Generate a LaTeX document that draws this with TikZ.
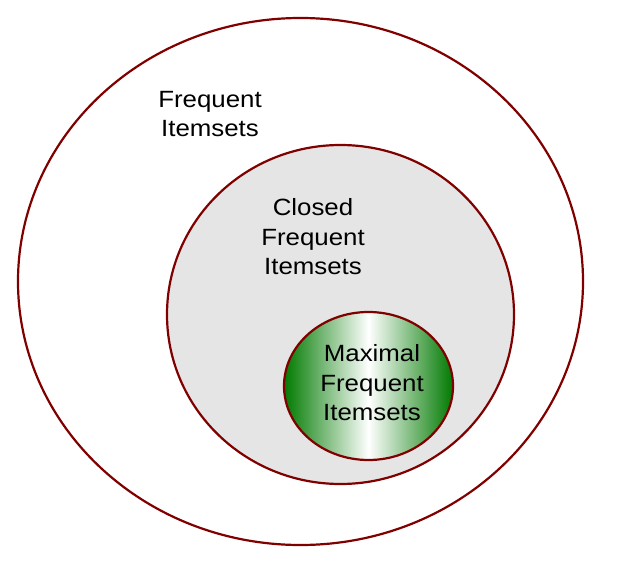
\documentclass[tikz,border=0pt]{standalone}
\usepackage{fontspec}
\setmainfont[FakeStretch=1.1]{Liberation Sans}
\definecolor{setline}{RGB}{128,0,0}
\definecolor{setgreen}{RGB}{0,122,0}
\tikzset{
  setborder/.style={draw=setline, line width=2.2pt},
  setlabel/.style={align=center, inner sep=0pt, font=\fontsize{23.5}{29.5}\selectfont}
}
\begin{document}
\begin{tikzpicture}[x=1pt, y=-1pt]
  \useasboundingbox (0,0) rectangle (618,575);
  % Frequent itemsets
  \draw[setborder, fill=white] (300.5,281.5) ellipse [x radius=282.5pt, y radius=263.5pt];
  \node[setlabel] (frequent) at (210,114) {Frequent\\Itemsets};
  % Closed frequent itemsets
  \draw[setborder, fill=black!10] (340.5,314.5) ellipse [x radius=173.5pt, y radius=169.5pt];
  \node[setlabel] (closed) at (313,237) {Closed\\Frequent\\Itemsets};
  % Maximal frequent itemsets
  \path[setborder, left color=setgreen, right color=setgreen, middle color=white]
    (368.5,386) ellipse [x radius=84.5pt, y radius=74pt];
  \node[setlabel] (maximal) at (372,383) {Maximal\\Frequent\\Itemsets};
\end{tikzpicture}
\end{document}
